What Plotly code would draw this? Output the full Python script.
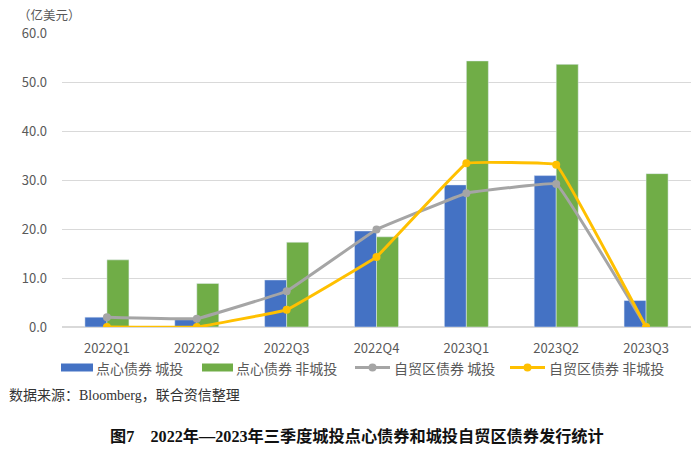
import plotly.graph_objects as go

categories = ["2022Q1", "2022Q2", "2022Q3", "2022Q4", "2023Q1", "2023Q2", "2023Q3"]
dim_sum_lgfv = [2.0, 1.5, 9.6, 19.6, 29.0, 30.9, 5.4]
dim_sum_non_lgfv = [13.7, 8.9, 17.3, 18.4, 54.3, 53.6, 31.3]
ftz_lgfv = [2.0, 1.7, 7.3, 19.9, 27.3, 29.2, 0.0]
ftz_non_lgfv = [0.0, 0.0, 3.5, 14.3, 33.4, 33.1, 0.0]
y_ticks = [0, 10, 20, 30, 40, 50, 60]
series_names = ["点心债券 城投", "点心债券 非城投", "自贸区债券 城投", "自贸区债券 非城投"]
series_colors = ["#4472C4", "#70AD47", "#A5A5A5", "#FFC000"]

FONT = "Noto Sans CJK SC"
TXT = "#595959"
W, H = 700, 450
ML, MR, MT, MB = 62, 9, 33, 123
PW, PH = W - ML - MR, H - MT - MB


def px2x(px):
    return (px - ML) / PW


def px2y(py):
    return (H - MB - py) / PH


fig = go.Figure()
fig.add_trace(go.Bar(x=categories, y=dim_sum_lgfv, name=series_names[0], marker_color=series_colors[0]))
fig.add_trace(go.Bar(x=categories, y=dim_sum_non_lgfv, name=series_names[1], marker_color=series_colors[1]))
fig.add_trace(go.Scatter(x=categories, y=ftz_lgfv, name=series_names[2], mode="lines+markers",
                         line=dict(color=series_colors[2], width=3, shape="spline", smoothing=0.15),
                         marker=dict(size=8, color=series_colors[2])))
fig.add_trace(go.Scatter(x=categories, y=ftz_non_lgfv, name=series_names[3], mode="lines+markers",
                         line=dict(color=series_colors[3], width=3, shape="spline", smoothing=0.15),
                         marker=dict(size=8, color=series_colors[3])))

fig.update_layout(
    width=W, height=H,
    margin=dict(l=ML, r=MR, t=MT, b=MB),
    paper_bgcolor="white", plot_bgcolor="white",
    barmode="group", bargap=0.51, bargroupgap=0,
    font=dict(family=FONT, size=13, color=TXT),
    showlegend=False,
    xaxis=dict(showgrid=False, showline=False, ticks="", ticklabelstandoff=12,
               tickfont=dict(family=FONT, size=13, color=TXT)),
    yaxis=dict(range=[0, 60], tickvals=y_ticks, tickformat=".1f", showgrid=True, gridcolor="#D9D9D9",
               gridwidth=1, zeroline=True, zerolinecolor="#D9D9D9", showline=False, ticks="",
               ticklabelstandoff=14, tickfont=dict(family=FONT, size=13, color=TXT)),
)

# manual legend (wide swatches like the reference)
leg_y = 367.5
shapes = []
annos = []
for (x0, x1, tx), name, col in zip([(61, 93, 95), (202, 233, 235)], series_names[:2], series_colors[:2]):
    shapes.append(dict(type="rect", xref="paper", yref="paper", x0=px2x(x0), x1=px2x(x1),
                       y0=px2y(leg_y + 4), y1=px2y(leg_y - 4), fillcolor=col, line=dict(width=0)))
    annos.append(dict(text=name, x=px2x(tx), y=px2y(leg_y), xanchor="left", yanchor="middle"))
for (x0, x1, tx), name, col in zip([(355, 390, 393), (510, 545, 548)], series_names[2:], series_colors[2:]):
    shapes.append(dict(type="line", xref="paper", yref="paper", x0=px2x(x0), x1=px2x(x1),
                       y0=px2y(leg_y), y1=px2y(leg_y), line=dict(color=col, width=3)))
    cx = (x0 + x1) / 2
    shapes.append(dict(type="circle", xref="paper", yref="paper", x0=px2x(cx - 4), x1=px2x(cx + 4),
                       y0=px2y(leg_y + 4), y1=px2y(leg_y - 4), fillcolor=col, line=dict(width=0)))
    annos.append(dict(text=name, x=px2x(tx), y=px2y(leg_y), xanchor="left", yanchor="middle"))

for a in annos:
    fig.add_annotation(xref="paper", yref="paper", showarrow=False, borderpad=0,
                       font=dict(family=FONT, size=14, color=TXT), **a)
fig.update_layout(shapes=shapes)

fig.add_annotation(text="（亿美元）", xref="paper", yref="paper", x=px2x(17), y=px2y(14),
                   xanchor="left", yanchor="middle", showarrow=False, borderpad=0,
                   font=dict(family=FONT, size=12.5, color=TXT))
fig.add_annotation(text="数据来源：Bloomberg，联合资信整理", xref="paper", yref="paper",
                   x=px2x(8), y=px2y(395), xanchor="left", yanchor="middle", showarrow=False, borderpad=0,
                   font=dict(family="Liberation Serif, Noto Sans CJK SC", size=14, color="#333333"))
fig.add_annotation(text="<b>图7　2022年—2023年三季度城投点心债券和城投自贸区债券发行统计</b>",
                   xref="paper", yref="paper", x=px2x(357), y=px2y(436), xanchor="center", yanchor="middle",
                   showarrow=False, borderpad=0,
                   font=dict(family="Liberation Serif, Noto Sans CJK SC", size=16.2, color="#111111"))

fig.write_html("out.html", post_script="document.body.style.margin='0';",
               config={"displayModeBar": False})
